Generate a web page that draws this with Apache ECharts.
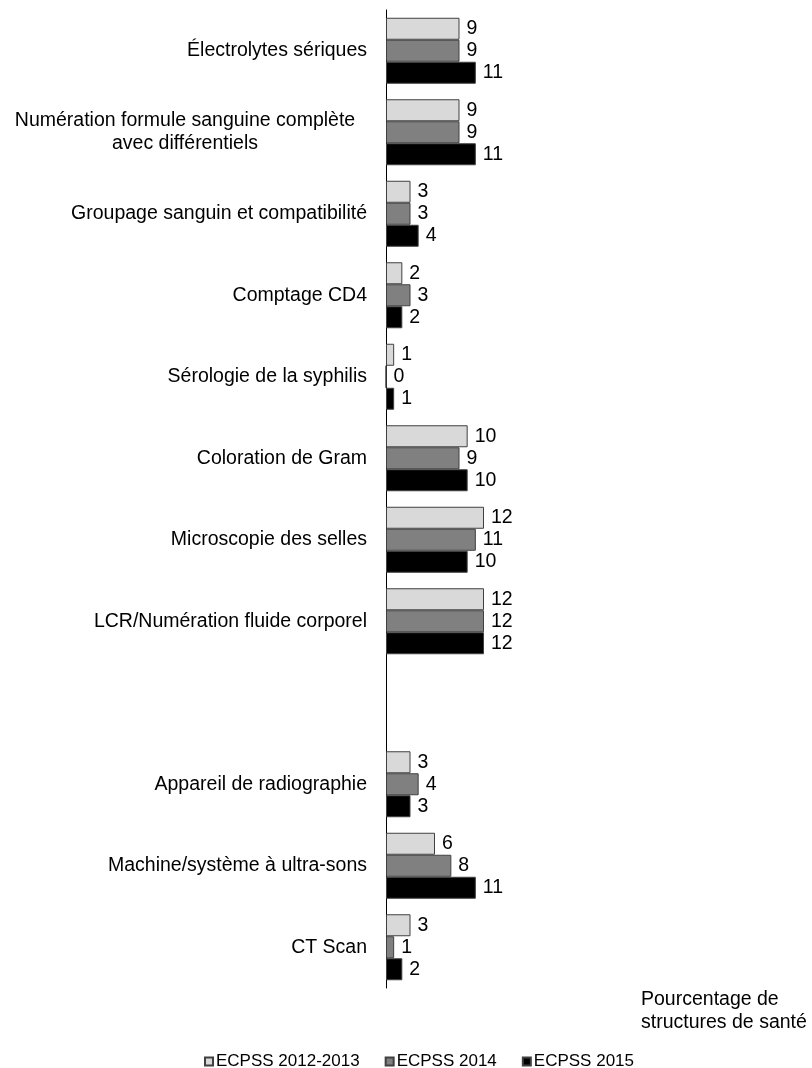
<!DOCTYPE html>
<html>
<head>
<meta charset="utf-8">
<script src="https://cdn.jsdelivr.net/npm/echarts@6/dist/echarts.min.js"></script>
<style>html,body{margin:0;padding:0;background:#fff}#c{width:812px;height:1068px}</style>
</head>
<body>
<div id="c"></div>
<script>
const categories = ['Électrolytes sériques', 'Numération formule sanguine complète\navec différentiels', 'Groupage sanguin et compatibilité', 'Comptage CD4', 'Sérologie de la syphilis', 'Coloration de Gram', 'Microscopie des selles', 'LCR/Numération fluide corporel', '', 'Appareil de radiographie', 'Machine/système à ultra-sons', 'CT Scan'];
const seriesNames = ['ECPSS 2012-2013', 'ECPSS 2014', 'ECPSS 2015'];
const values2012 = [9, 9, 3, 2, 1, 10, 12, 12, null, 3, 6, 3];
const values2014 = [9, 9, 3, 3, 0, 9, 11, 12, null, 4, 8, 1];
const values2015 = [11, 11, 4, 2, 1, 10, 10, 12, null, 3, 11, 2];
const axisTitle = 'Pourcentage de\nstructures de santé';

const colors = ['#d9d9d9', '#808080', '#000000'];
const FONT = 'Liberation Sans, Arial, sans-serif';
const FS = 19.5;
const chart = echarts.init(document.getElementById('c'), null, {renderer: 'canvas'});
function mk(name, data, color) {
  return {
    name: name, type: 'bar', data: data, barWidth: 22, barGap: '0%',
    itemStyle: {color: color, borderColor: '#404040', borderWidth: 1},
    label: {show: true, position: 'right', distance: 7, color: '#000', fontSize: FS, fontFamily: FONT},
    animation: false
  };
}
chart.setOption({
  animation: false,
  textStyle: {fontFamily: FONT},
  grid: {left: 384, top: 10, width: 100, height: 978, containLabel: false},
  xAxis: {type: 'value', min: 0, max: 12, show: false},
  yAxis: {
    type: 'category', inverse: true, data: categories,
    axisLine: {show: true, lineStyle: {color: '#000', width: 1}},
    axisTick: {show: false}, splitLine: {show: false},
    axisLabel: {
      margin: 19, color: '#000', fontSize: FS, fontFamily: FONT,
      formatter: function (v) {
        if (v.indexOf('\n') >= 0) return '{c|' + v.split('\n').join('}\n{c|') + '}';
        return v;
      },
      rich: {c: {width: 364, align: 'center', fontSize: FS, fontFamily: FONT, color: '#000', lineHeight: 23}}
    }
  },
  legend: {
    left: 199, top: 1048, itemWidth: 8, itemHeight: 8, itemGap: 25, icon: 'rect',
    textStyle: {fontSize: 17, color: '#000', fontFamily: FONT, padding: [0, 0, 0, -2]},
    data: seriesNames
  },
  graphic: [{
    type: 'text', left: 641, top: 988,
    style: {text: axisTitle, fontSize: FS, fontFamily: FONT, fill: '#000', lineHeight: 23}
  }],
  series: [
    mk(seriesNames[0], values2012, colors[0]),
    mk(seriesNames[1], values2014, colors[1]),
    mk(seriesNames[2], values2015, colors[2])
  ]
});
</script>
</body>
</html>
